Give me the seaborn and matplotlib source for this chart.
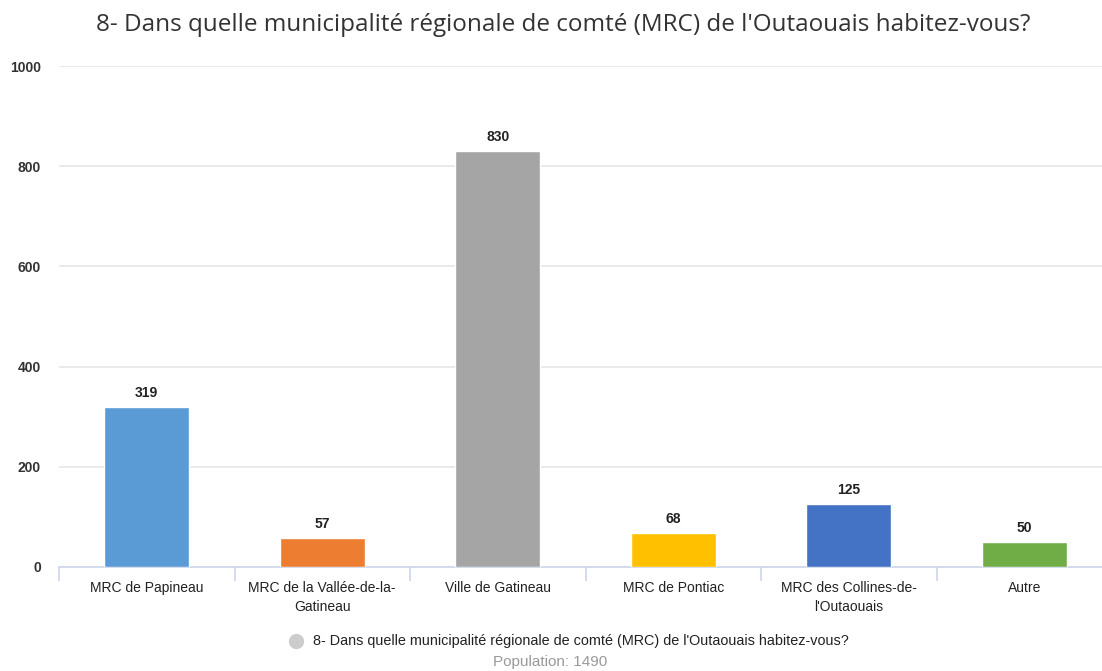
import pandas as pd
import seaborn as sns
import matplotlib.pyplot as plt
from matplotlib.lines import Line2D

# data
categories = ['MRC de Papineau', 'MRC de la Vallée-de-la-\nGatineau', 'Ville de Gatineau',
              'MRC de Pontiac', 'MRC des Collines-de-\nl\'Outaouais', 'Autre']
counts = [319, 57, 830, 68, 125, 50]
bar_colors = ['#5B9BD5', '#ED7D31', '#A5A5A5', '#FFC000', '#4472C4', '#70AD47']
y_ticks = [0, 200, 400, 600, 800, 1000]
title = "8- Dans quelle municipalité régionale de comté (MRC) de l'Outaouais habitez-vous?"
population = 1490

df = pd.DataFrame({'category': categories, 'count': counts})

sns.set_style('white')
plt.rcParams['font.family'] = ['Liberation Sans', 'DejaVu Sans']

fig = plt.figure(figsize=(11.02, 6.71), dpi=100)
# axes from x=59px to ~1112px (slightly past the right edge), y=66px to 567px
ax = fig.add_axes([59 / 1102, (671 - 567) / 671, 1053 / 1102, 501 / 671])

sns.barplot(data=df, x='category', y='count', hue='category', palette=bar_colors,
            legend=False, width=0.485, saturation=1, ax=ax, zorder=3)

ax.set_ylim(0, 1000)
ax.set_xlim(-0.5, len(categories) - 0.5)
ax.set_yticks(y_ticks)
ax.set_yticklabels([str(t) for t in y_ticks], fontsize=10, color='#333333', fontweight='bold')
ax.yaxis.grid(True, color='#e6e6e6', linewidth=1.2, zorder=0)
ax.tick_params(axis='y', length=0, pad=13)
ax.set_xlabel('')
ax.set_ylabel('')

# category boundary ticks like the original
ax.set_xticks([i + 0.5 for i in range(-1, len(categories))], minor=True)
ax.tick_params(axis='x', which='minor', bottom=True, length=10, color='#ccd6eb', width=1.2)
ax.set_xticks(range(len(categories)))
ax.set_xticklabels(categories, fontsize=10, color='#222222', linespacing=1.45)
ax.tick_params(axis='x', which='major', length=0, pad=10)

for s in ['top', 'right', 'left']:
    ax.spines[s].set_visible(False)
ax.spines['bottom'].set_color('#ccd6eb')
ax.spines['bottom'].set_linewidth(1.2)

for i, v in enumerate(counts):
    ax.annotate(str(v), (i, v), xytext=(0, 5), textcoords='offset points',
                ha='center', va='bottom', fontsize=10, fontweight='bold', color='#222222')

fig.text(563 / 1102, 1 - 25 / 671, title, ha='center', va='center',
         fontsize=17.5, color='#333333', family=['Open Sans', 'DejaVu Sans'])

# legend-like footer
fig.add_artist(Line2D([296 / 1102], [1 - 641 / 671], marker='o', markersize=10,
                      color='#cccccc', linestyle='none', transform=fig.transFigure))
fig.text(313 / 1102, 1 - 641 / 671, title, ha='left', va='center', fontsize=10.4, color='#222222')
fig.text(550 / 1102, 1 - 662 / 671, 'Population: ' + str(population), ha='center', va='center',
         fontsize=11, color='#999999')

plt.savefig('out.png', dpi=100)
